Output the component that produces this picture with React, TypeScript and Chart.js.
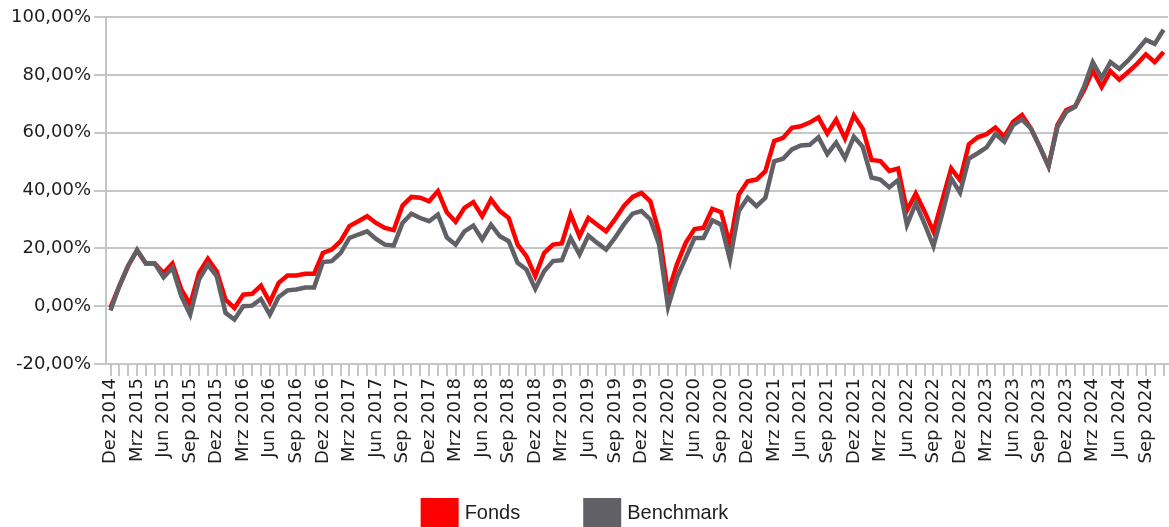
import React, { useEffect, useRef } from "react";
import { Chart, registerables } from "chart.js";

Chart.register(...registerables);

const monthNames = ["Jan", "Feb", "Mrz", "Apr", "Mai", "Jun", "Jul", "Aug", "Sep", "Okt", "Nov", "Dez"];
const startYear = 2014;
const startMonth = 11; // Dez
const monthCount = 120;

const categories: string[] = [];
for (let i = 0; i < monthCount; i++) {
  const m = (startMonth + i) % 12;
  const y = startYear + Math.floor((startMonth + i) / 12);
  categories.push(`${monthNames[m]} ${y}`);
}

const fondsValues = [
  -0.5, 7, 14, 19.3, 14.8, 14.8, 11.5, 14.8, 5.8, 0.6,
  11.5, 16.4, 12.1, 2.3, -0.6, 4.0, 4.3, 7.1, 1.4, 8.1,
  10.6, 10.6, 11.2, 11.2, 18.4, 19.6, 22.5, 27.7, 29.4, 31.1,
  28.8, 27.1, 26.3, 34.8, 37.8, 37.5, 36.3, 39.8, 32.5, 29.2,
  34.0, 36.0, 31.1, 36.9, 32.9, 30.5, 21.3, 17.3, 10.4, 18.4,
  21.3, 21.7, 31.7, 24.2, 30.5, 28.2, 25.9, 30.0, 34.6, 37.8,
  39.2, 36.3, 25.4, 4.5, 14.4, 21.9, 26.7, 27.1, 33.7, 32.5,
  21.3, 38.6, 43.2, 43.8, 46.7, 57.1, 58.2, 61.7, 62.2, 63.5,
  65.3, 59.7, 64.5, 58.0, 66.0, 61.4, 50.6, 50.2, 46.8, 47.6,
  33.1, 39.0, 32.7, 25.8, 36.7, 47.6, 43.6, 56.0, 58.4, 59.5,
  61.8, 58.6, 63.8, 66.1, 61.5, 55.2, 48.4, 62.6, 67.8, 69.1,
  74.6, 81.5, 75.8, 81.3, 78.3, 81.0, 83.8, 87.1, 84.4, 87.9,
];

const benchmarkValues = [
  -1.5, 7, 14, 19.5, 14.8, 14.8, 10, 13.3, 3.5, -2.9,
  9.2, 14.4, 10.4, -2.3, -4.6, 0, 0.2, 2.5, -2.9, 3.2,
  5.5, 5.8, 6.5, 6.5, 15.3, 15.6, 18.4, 23.6, 24.8, 25.9,
  23.3, 21.3, 21.0, 28.8, 32.0, 30.5, 29.4, 31.7, 23.8, 21.3,
  25.9, 27.9, 23.1, 28.2, 24.2, 22.5, 15.0, 12.7, 6.0, 12.1,
  15.6, 15.9, 23.6, 17.9, 24.4, 21.9, 19.6, 23.6, 28.2, 32.0,
  32.9, 30.0, 21.3, -0.2, 9.8, 16.7, 23.6, 23.6, 29.7, 28.2,
  16.1, 32.9, 37.5, 34.6, 37.5, 50.1, 51.0, 54.2, 55.6, 55.8,
  58.4, 52.6, 56.6, 51.2, 58.6, 55.1, 44.5, 43.8, 41.1, 43.6,
  28.1, 35.6, 28.4, 20.8, 32.1, 44.2, 39.3, 51.1, 52.9, 54.9,
  59.5, 56.9, 62.6, 64.6, 61.5, 55.2, 48.4, 61.9, 67.2, 68.9,
  75.8, 84.4, 79.0, 84.4, 82.1, 85.0, 88.4, 92.1, 90.7, 95.6,
];

const seriesLabels = ["Fonds", "Benchmark"];
const seriesColors = ["#ff0000", "#606066"];

const yMin = -20;
const yMax = 100;
const yStep = 20;
const labelEvery = 3;

const gridColor = "#c6c6c6";
const textColor = "#1e1e1e";
const tickFont = { family: "'DejaVu Sans', sans-serif", size: 18 };

const bottomLegend = {
  id: "bottomLegend",
  afterDraw(chart: any) {
    const ctx = chart.ctx as CanvasRenderingContext2D;
    ctx.save();
    ctx.font = "20px 'Liberation Sans', Arial, sans-serif";
    const boxW = 38;
    const boxH = 30;
    const textGap = 6;
    const itemGap = 63;
    const items = chart.data.datasets.map((ds: any) => ({ text: ds.label, color: ds.borderColor }));
    const widths = items.map((it: any) => boxW + textGap + ctx.measureText(it.text).width);
    const total = widths.reduce((a: number, b: number) => a + b, 0) + itemGap * (items.length - 1);
    let x = chart.width / 2 - 10 - total / 2;
    const top = 498;
    const textY = 513;
    items.forEach((it: any, i: number) => {
      ctx.fillStyle = it.color;
      ctx.fillRect(x, top, boxW, boxH);
      ctx.fillStyle = textColor;
      ctx.textBaseline = "middle";
      ctx.textAlign = "left";
      ctx.fillText(it.text, x + boxW + textGap, textY);
      x += widths[i] + itemGap;
    });
    ctx.restore();
  },
};

export default function App() {
  const canvasRef = useRef<HTMLCanvasElement | null>(null);

  useEffect(() => {
    if (!canvasRef.current) return;
    const chart = new Chart(canvasRef.current, {
      type: "line",
      data: {
        labels: categories,
        datasets: [
          {
            label: seriesLabels[0],
            data: fondsValues,
            borderColor: seriesColors[0],
            backgroundColor: seriesColors[0],
            borderWidth: 4.5,
            pointRadius: 0,
            tension: 0,
            fill: false,
            order: 1,
          },
          {
            label: seriesLabels[1],
            data: benchmarkValues,
            borderColor: seriesColors[1],
            backgroundColor: seriesColors[1],
            borderWidth: 4.5,
            pointRadius: 0,
            tension: 0,
            fill: false,
            order: 0,
          },
        ],
      },
      options: {
        responsive: false,
        animation: false,
        devicePixelRatio: 1,
        layout: { padding: { left: 8, right: 1, top: 17, bottom: 61 } },
        plugins: {
          legend: { display: false },
          tooltip: { enabled: false },
        },
        scales: {
          x: {
            type: "category",
            offset: true,
            afterFit: (scale: any) => {
              scale.paddingRight = 0;
              scale.paddingLeft = 0;
            },
            grid: {
              display: true,
              drawOnChartArea: false,
              drawTicks: true,
              tickLength: 12,
              color: gridColor,
              lineWidth: 2,
            },
            border: { display: true, color: gridColor, width: 2 },
            ticks: {
              autoSkip: false,
              maxRotation: 90,
              minRotation: 90,
              padding: 2,
              color: textColor,
              font: tickFont,
              callback: (_v: any, index: number) => (index % labelEvery === 0 ? categories[index] : ""),
            },
          },
          y: {
            min: yMin,
            max: yMax,
            afterFit: (scale: any) => {
              scale.paddingTop = 0;
              scale.paddingBottom = 0;
            },
            grid: {
              color: gridColor,
              lineWidth: 2,
              tickLength: 12,
            },
            border: { display: true, color: gridColor, width: 2 },
            ticks: {
              stepSize: yStep,
              padding: 3,
              color: textColor,
              font: tickFont,
              callback: (v: any) => `${Number(v).toFixed(2).replace(".", ",")}%`,
            },
          },
        },
      },
      plugins: [bottomLegend],
    });
    return () => chart.destroy();
  }, []);

  return (
    <div style={{ position: "absolute", left: 0, top: 0, width: 1169, height: 527, overflow: "hidden", background: "#fff" }}>
      <canvas ref={canvasRef} width={1169} height={527} style={{ display: "block" }} />
    </div>
  );
}
